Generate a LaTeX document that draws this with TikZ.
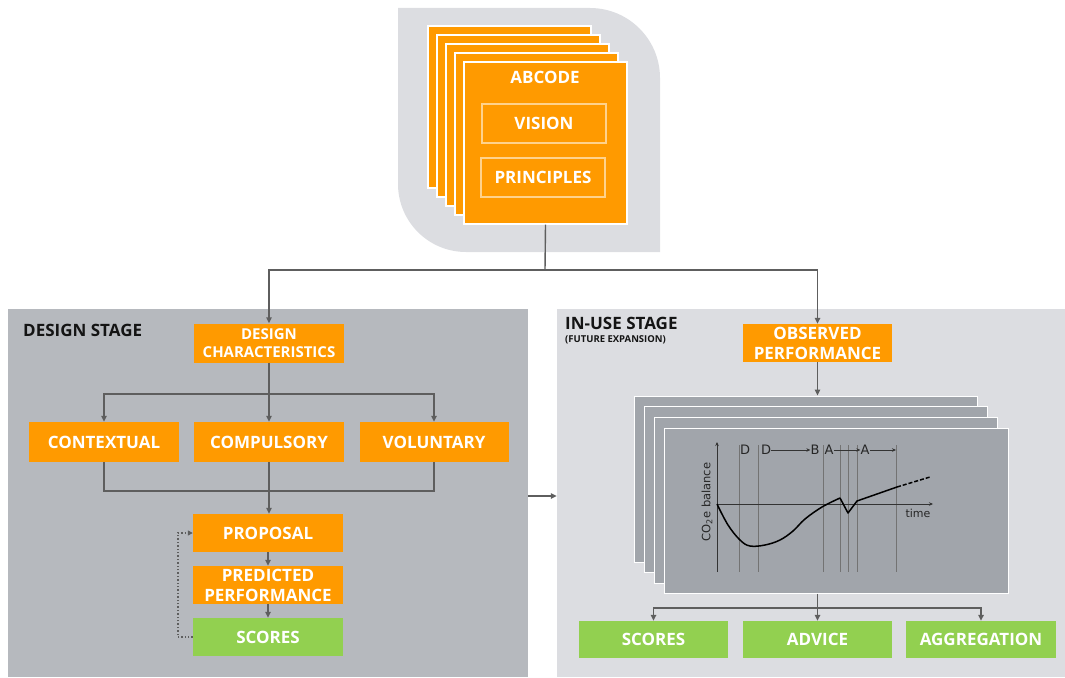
\documentclass[tikz,border=0pt]{standalone}
\usepackage{fontspec}
\setmainfont{Open Sans}
\newfontfamily\graphfont{DejaVu Sans}
\usetikzlibrary{arrows.meta}
\definecolor{orng}{HTML}{FF9A00}
\definecolor{grn}{HTML}{92D050}
\definecolor{dpanel}{HTML}{B6B9BE}
\definecolor{lpanel}{HTML}{DCDDE1}
\definecolor{gpage}{HTML}{A1A5AB}
\definecolor{lin}{HTML}{5E5E5E}
\begin{document}
\begin{tikzpicture}[x=1pt,y=-1pt,
  obox/.style={fill=orng,draw=none,text=white,font=\fontsize{17}{20}\selectfont\bfseries,inner sep=0pt,align=center},
  gbox/.style={fill=grn,draw=none,text=white,font=\fontsize{17}{20}\selectfont\bfseries,inner sep=0pt,align=center},
  small/.style={font=\fontsize{15}{18.5}\selectfont\bfseries},
  inbox/.style={draw=orng!45!white,line width=1.3pt,fill=none,text=white,font=\fontsize{17}{19}\selectfont\bfseries,minimum width=124pt,minimum height=39pt,inner sep=0pt},
  opage/.style={fill=orng,draw=white,line width=1.3pt,minimum width=163pt,minimum height=162pt,inner sep=0pt},
  gpagest/.style={fill=gpage,draw=white,line width=1pt,minimum width=343pt,minimum height=166pt,inner sep=0pt},
  panel/.style={draw=none,inner sep=0pt},
  conn/.style={draw=lin,line width=1.4pt,-{Triangle[length=6pt,width=5.5pt]}},
  plain/.style={draw=lin,line width=1.4pt},
  stagelbl/.style={text=black!92,font=\fontsize{17}{19}\selectfont\bfseries,inner sep=0pt,anchor=west},
  glbl/.style={font=\graphfont\fontsize{13}{14}\selectfont,inner sep=0pt,text=black!85},
  vline/.style={draw=black!55,line width=0.6pt},
  garr/.style={draw=black!80,line width=0.6pt,-{Stealth[length=4pt,width=3.5pt]}}
]
\useasboundingbox (0,0) rectangle (1065,677);

% top grey shape
\fill[lpanel] (398,8) -- (590,8) arc (-90:0:70) -- (660,252) -- (466,252) arc (90:180:68) -- cycle;

% orange pages
\foreach \i in {0,1,2,3}{
  \node[opage] (op\i) at (509.5+9*\i,107+9*\i) {};
}
\node[opage] (abcode) at (545.5,143) {};
\node[text=white,font=\fontsize{17}{19}\selectfont\bfseries,inner sep=0pt] (abcodelbl) at (545,77) {ABCODE};
\node[inbox] (vision) at (544,123.5) {VISION};
\node[inbox] (principles) at (543,177.5) {PRINCIPLES};

% panels
\node[panel,fill=dpanel,minimum width=520pt,minimum height=368pt] (design) at (268,493) {};
\node[panel,fill=lpanel,minimum width=508pt,minimum height=368pt] (inuse) at (811,493) {};

\node[stagelbl] (dslbl) at (23,330) {DESIGN STAGE};
\node[stagelbl] (iulbl) at (565,323) {IN-USE STAGE};
\node[stagelbl,font=\fontsize{9.5}{10}\selectfont\bfseries] (fexp) at (565,340) {(FUTURE EXPANSION)};

% design stage boxes
\node[obox,small,minimum width=150pt,minimum height=39pt] (dc) at (269,343) {DESIGN\\CHARACTERISTICS};
\node[obox,minimum width=150pt,minimum height=40pt] (ctx) at (104,442) {CONTEXTUAL};
\node[obox,minimum width=150pt,minimum height=40pt] (cmp) at (269,442) {COMPULSORY};
\node[obox,minimum width=149pt,minimum height=40pt] (vol) at (434,442) {VOLUNTARY};
\node[obox,minimum width=150pt,minimum height=38pt] (prop) at (268,533) {PROPOSAL};
\node[obox,minimum width=150pt,minimum height=38pt] (pred) at (268,585) {PREDICTED\\PERFORMANCE};
\node[gbox,minimum width=150pt,minimum height=38pt] (sc1) at (268,637) {SCORES};

% in-use boxes
\node[obox,minimum width=149pt,minimum height=38pt] (obs) at (817.5,343) {OBSERVED\\PERFORMANCE};
\foreach \i in {0,1,2}{
  \node[gpagest] (gp\i) at (805.5+10*\i,479+10.5*\i) {};
}
\node[gpagest,minimum width=344pt,minimum height=165pt] (front) at (836,510.5) {};
\node[gbox,minimum width=149pt,minimum height=37pt] (sc2) at (653.5,639.5) {SCORES};
\node[gbox,minimum width=149pt,minimum height=37pt] (adv) at (817.5,639.5) {ADVICE};
\node[gbox,minimum width=150pt,minimum height=37pt] (agg) at (981,639.5) {AGGREGATION};

% graph
\draw[vline] (739,445) -- (739,572);
\draw[vline] (758,445) -- (758,572);
\draw[vline] (823,445) -- (823,572);
\draw[vline] (840,445) -- (840,572);
\draw[vline] (848,445) -- (848,572);
\draw[vline] (857,445) -- (857,572);
\draw[vline] (896,445) -- (896,572);
\draw[draw=black!80,line width=0.8pt,-{Stealth[length=4pt,width=3.5pt]}] (717,572) -- (717,442);
\draw[draw=black!80,line width=0.8pt,-{Stealth[length=4pt,width=3.5pt]}] (717,504) -- (933,504);
\node[glbl] (gD1) at (745,450) {D};
\node[glbl] (gD2) at (766,450) {D};
\node[glbl] (gB) at (815,450) {B};
\node[glbl] (gA1) at (829,450) {A};
\node[glbl] (gA2) at (865,450) {A};
\coordinate (ae) at (896,450);
\draw[garr] (gD2.east) -- (gB.west);
\draw[garr] (gA1.east) -- (gA2.west);
\draw[garr] (gA2.east) -- (ae);
\node[glbl,font=\graphfont\fontsize{11}{12}\selectfont] (time) at (918,513) {time};
\node[glbl,font=\graphfont\fontsize{11.5}{12}\selectfont,rotate=90] (co2) at (707,502) {CO\textsubscript{2}e balance};
\draw[black,line width=1.5pt,line join=round] plot[smooth,tension=0.6] coordinates {(717,504) (728,525) (740,540) (750,546) (765,545) (780,540) (793,531) (805,519) (822,507) (840,498)} -- (848,513) -- (857,501) -- (897,487);
\draw[black,line width=1.5pt,dashed,dash pattern=on 4pt off 2pt] (897,487) -- (930,477);

% connectors top
\coordinate (j0) at (545,270);
\draw[plain] (abcode.south) -- (j0);
\draw[conn] (j0) -| (dc.north);
\draw[conn] (j0) -| (obs.north);

% design stage connectors
\coordinate (j1) at (269,394);
\draw[plain] (dc.south) -- (j1);
\draw[conn] (j1) -| (ctx.north);
\draw[conn] (j1) -- (cmp.north);
\draw[conn] (j1) -| (vol.north);
\coordinate (j2) at (269,491);
\draw[plain] (ctx.south) |- (j2) -| (vol.south);
\draw[conn] (cmp.south) -- (prop.north -| cmp.south);
\draw[conn] (prop.south) -- (pred.north);
\draw[conn] (pred.south) -- (sc1.north);
\draw[draw=lin,line width=1.4pt,dotted,-{Triangle[length=5pt,width=5pt]}] (sc1.west) -- ++(-15,0) |- (prop.west);

% between panels
\draw[conn] (design.east |- 0,496) -- (inuse.west |- 0,496);

% in-use connectors
\draw[conn] (obs.south) -- (obs.south |- gp0.north);
\coordinate (j3) at (817.5,608);
\draw[plain] (front.south -| j3) -- (j3);
\draw[conn] (j3) -| (sc2.north);
\draw[conn] (j3) -- (adv.north);
\draw[conn] (j3) -| (agg.north);
\end{tikzpicture}
\end{document}
